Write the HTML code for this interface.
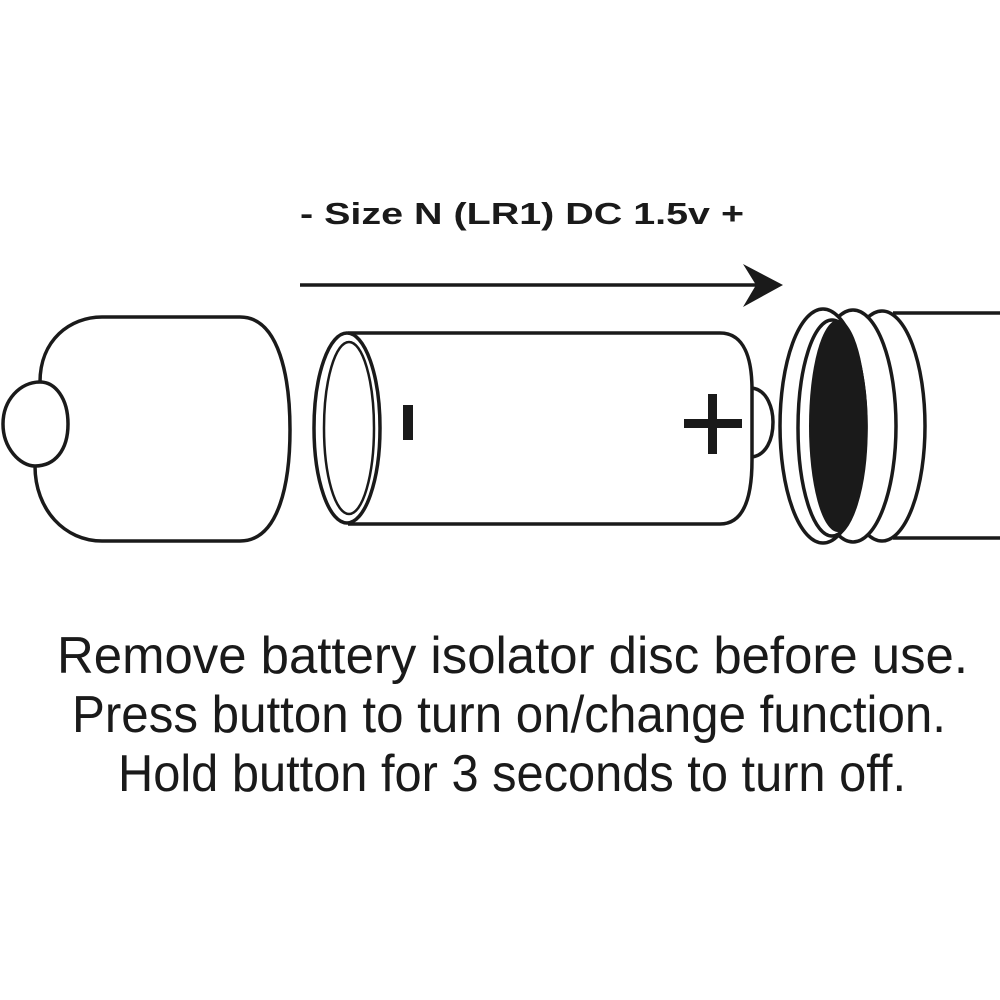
<!DOCTYPE html>
<html><head><style>html,body{margin:0;padding:0;background:#fff}svg{display:block}</style></head>
<body>
<svg width="1000" height="1000" viewBox="0 0 1000 1000" xmlns="http://www.w3.org/2000/svg">
<rect width="1000" height="1000" fill="#fff"/>
<text x="300" y="224" font-family="Liberation Sans, sans-serif" font-weight="bold" font-size="31" textLength="444" lengthAdjust="spacingAndGlyphs" fill="#1a1a1a">- Size N (LR1) DC 1.5v +</text>
<line x1="300" y1="285" x2="760" y2="285" stroke="#1a1a1a" stroke-width="3.5"/>
<path d="M783 285 L743 264 L756 285 L743 307 Z" fill="#1a1a1a"/>
<g fill="none" stroke="#1a1a1a" stroke-width="3.5">
<path d="M40 382 C40 340 70 317 102 317 L240 317 C280 317 290 380 290 430 C290 480 280 541 240 541 L102 541 C65 541 35 510 35 466"/>
<path d="M40 382 C20 382 3 400 3 424 C3 448 20 466 35 466 C55 466 68 450 68 424 C68 398 55 382 40 382 Z" fill="#fff"/>
<path d="M348 333 L720 333 C745 333 752 360 752 390 L752 460 C752 495 745 524 720 524 L348 524"/>
<ellipse cx="347" cy="428" rx="33" ry="95" fill="#fff"/>
<ellipse cx="349" cy="428" rx="25" ry="86" stroke-width="2.5"/>
<path d="M752 388 C768 390 773 410 773 422 C773 440 766 455 752 457"/>
<line x1="893" y1="313" x2="1000" y2="313"/>
<line x1="893" y1="538" x2="1000" y2="538"/>
<ellipse cx="882" cy="426" rx="43" ry="115" fill="#fff"/>
<ellipse cx="853" cy="426" rx="43" ry="116" fill="#fff"/>
<ellipse cx="823" cy="426" rx="43" ry="117" fill="#fff"/>
<ellipse cx="832" cy="428" rx="34" ry="108"/>
</g>
<ellipse cx="838" cy="426" rx="29" ry="106" fill="#1a1a1a"/>
<rect x="403" y="405" width="10" height="35" fill="#1a1a1a"/>
<rect x="708" y="394" width="9" height="60" fill="#1a1a1a"/>
<rect x="684" y="419" width="58" height="9" fill="#1a1a1a"/>
<g font-family="Liberation Sans, sans-serif" font-size="52" fill="#1a1a1a">
<text x="57" y="673" textLength="911" lengthAdjust="spacingAndGlyphs">Remove battery isolator disc before use.</text>
<text x="72" y="732" textLength="874" lengthAdjust="spacingAndGlyphs">Press button to turn on/change function.</text>
<text x="118" y="791" textLength="788" lengthAdjust="spacingAndGlyphs">Hold button for 3 seconds to turn off.</text>
</g>
</svg>
</body></html>
